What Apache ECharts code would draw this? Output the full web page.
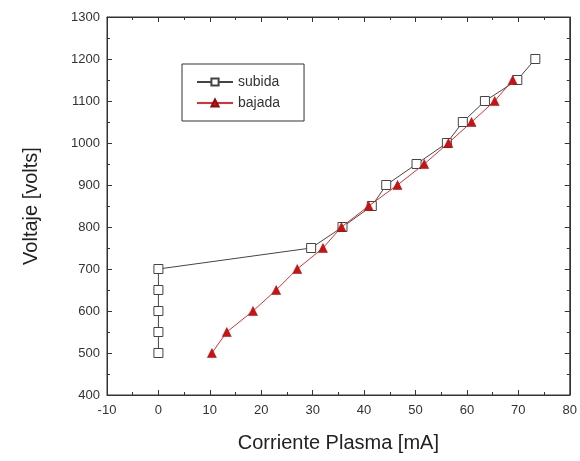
<!DOCTYPE html>
<html>
<head>
<meta charset="utf-8">
<script src="https://cdn.jsdelivr.net/npm/echarts@6/dist/echarts.min.js"></script>
</head>
<body style="margin:0;background:#fff;">
<div id="main" style="width:580px;height:461px;"></div>
<script type="text/javascript">
	// 数据：subida（方块）和 bajada（三角）
	var subidaX = [0, 0, 0, 0, 0, 29.7, 35.8, 41.5, 44.3, 50.2, 56.1, 59.2, 63.5, 69.8, 73.3];
	var subidaY = [500, 550, 600, 650, 700, 750, 800, 850, 900, 950, 1000, 1050, 1100, 1150, 1200];
	var bajadaX = [10.4, 13.3, 18.4, 22.9, 27.0, 32.0, 35.6, 40.9, 46.5, 51.7, 56.4, 60.9, 65.4, 68.9];
	var bajadaY = [500, 550, 600, 650, 700, 750, 800, 850, 900, 950, 1000, 1050, 1100, 1150];

	function pairs(xs, ys) {
		return xs.map(function (x, i) { return [x, ys[i]]; });
	}

	var font = 'Liberation Sans, Arial, sans-serif';
	var tickStyle = {show: true, inside: true, length: 5, lineStyle: {color: '#333'}};
	var minorStyle = {show: true, splitNumber: 2, length: 3, lineStyle: {color: '#333'}};
	var lineStyle = {show: true, onZero: false, lineStyle: {color: '#333'}};
	var plain = function (v) { return String(v); };

	var myEcharts = echarts.init(document.getElementById('main'));
	myEcharts.setOption({
		animation: false,
		textStyle: {fontFamily: font},
		grid: {left: 107, right: 8, top: 17, bottom: 66, show: true, borderColor: '#333', borderWidth: 1},
		legend: {
			left: 182, top: 64, orient: 'vertical',
			borderColor: '#333', borderWidth: 1, padding: [11, 24, 11, 14],
			itemWidth: 36, itemHeight: 9, itemGap: 7,
			textStyle: {fontSize: 14, color: '#333', fontFamily: font},
			data: ['subida', 'bajada']
		},
		xAxis: [{
			type: 'value', min: -10, max: 80, interval: 10,
			name: 'Corriente Plasma [mA]', nameLocation: 'middle', nameGap: 38,
			nameTextStyle: {fontSize: 20, color: '#222', fontFamily: font},
			axisLine: lineStyle,
			axisTick: tickStyle, minorTick: minorStyle,
			axisLabel: {fontSize: 13, color: '#333', margin: 9, formatter: plain},
			splitLine: {show: false}
		}, {
			type: 'value', position: 'top', min: -10, max: 80, interval: 10,
			axisLine: lineStyle,
			axisTick: tickStyle, minorTick: minorStyle,
			axisLabel: {show: false}, splitLine: {show: false}
		}],
		yAxis: [{
			type: 'value', min: 400, max: 1300, interval: 100,
			name: 'Voltaje [volts]', nameLocation: 'middle', nameGap: 66,
			nameTextStyle: {fontSize: 20, color: '#222', fontFamily: font},
			axisLine: lineStyle,
			axisTick: tickStyle, minorTick: minorStyle,
			axisLabel: {fontSize: 13, color: '#333', margin: 7, formatter: plain},
			splitLine: {show: false}
		}, {
			type: 'value', position: 'right', min: 400, max: 1300, interval: 100,
			axisLine: lineStyle,
			axisTick: tickStyle, minorTick: minorStyle,
			axisLabel: {show: false}, splitLine: {show: false}
		}],
		series: [{
			name: 'subida', type: 'line',
			data: pairs(subidaX, subidaY),
			symbol: 'rect', symbolSize: 9,
			itemStyle: {color: '#fff', borderColor: '#444', borderWidth: 1},
			lineStyle: {color: '#444', width: 1},
			z: 2
		}, {
			name: 'bajada', type: 'line',
			data: pairs(bajadaX, bajadaY),
			symbol: 'triangle', symbolSize: 9,
			itemStyle: {color: '#d01010', borderColor: '#8a1010', borderWidth: 0.5},
			lineStyle: {color: '#e03030', width: 1},
			z: 3
		}]
	});
</script>
</body>
</html>
